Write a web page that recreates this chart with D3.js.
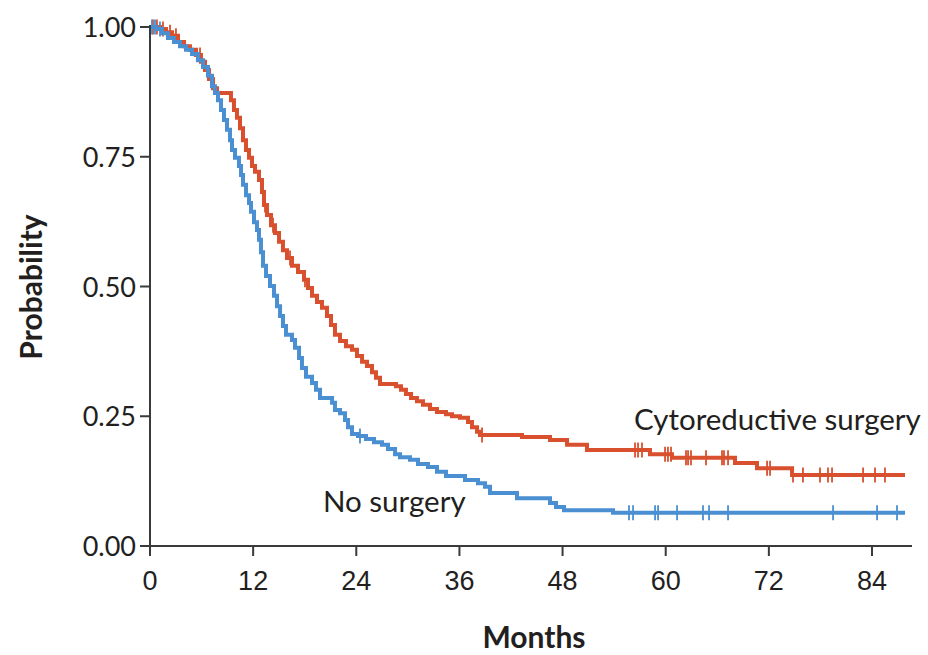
<!DOCTYPE html>
<html>
<head>
<meta charset="utf-8">
<script src="https://cdn.jsdelivr.net/npm/d3@7"></script>
<style>
  html, body { margin: 0; padding: 0; background: #fff; }
  svg { display: block; }
  .lbl { font-family: Lato, "Open Sans", "DejaVu Sans", sans-serif; fill: #231f20; }
</style>
</head>
<body>
<svg id="chart" width="928" height="655"></svg>
<script>
// Kaplan–Meier steps: [month at which survival drops, survival after the drop]
const surgerySteps = [
  [1.16,0.996],[1.86,0.990],[2.56,0.983],[3.26,0.971],[3.96,0.963],[4.65,0.956],[5.35,0.946],
  [5.93,0.933],[6.40,0.917],[6.86,0.900],[7.33,0.882],[7.80,0.873],[9.42,0.859],[9.77,0.840],
  [10.12,0.825],[10.47,0.805],[10.82,0.782],[11.17,0.763],[11.52,0.748],[11.87,0.732],[12.22,0.721],
  [12.68,0.705],[13.03,0.682],[13.26,0.657],[13.61,0.638],[14.08,0.618],[14.54,0.603],[15.01,0.586],
  [15.47,0.570],[15.94,0.555],[16.52,0.540],[17.22,0.528],[17.92,0.513],[18.38,0.497],[18.85,0.482],
  [19.43,0.470],[20.01,0.459],[20.59,0.443],[21.06,0.426],[21.52,0.407],[22.11,0.395],[22.80,0.385],
  [23.50,0.378],[24.08,0.366],[24.67,0.355],[25.25,0.347],[25.83,0.335],[26.29,0.324],[26.76,0.312],
  [28.62,0.308],[29.20,0.301],[29.78,0.293],[30.37,0.285],[31.06,0.279],[31.76,0.272],[32.58,0.264],
  [33.39,0.258],[34.44,0.254],[35.14,0.250],[36.07,0.247],[37.00,0.239],[37.46,0.229],[38.05,0.220],
  [38.39,0.214],[43.28,0.210],[46.54,0.204],[48.52,0.195],[50.84,0.185],[58.17,0.177],[60.73,0.170],
  [68.06,0.160],[70.62,0.150],[74.70,0.137]
];
const surgeryCensored = [
  0.35,0.81,1.51,2.33,3.02,5.82,13.38,14.31,16.29,18.03,38.63,56.43,56.78,57.24,59.92,60.26,60.62,
  62.36,62.60,62.94,64.69,66.55,66.78,67.25,71.79,72.14,74.81,75.97,77.95,78.88,79.35,82.96,84.35,85.51
];

const noSurgerySteps = [
  [0.70,0.996],[1.40,0.988],[2.09,0.979],[2.79,0.971],[3.49,0.963],[4.19,0.956],[4.89,0.948],
  [5.58,0.936],[6.17,0.923],[6.75,0.906],[7.21,0.886],[7.56,0.873],[7.91,0.859],[8.26,0.840],
  [8.61,0.821],[8.96,0.802],[9.31,0.782],[9.54,0.763],[9.89,0.748],[10.35,0.732],[10.59,0.715],
  [10.82,0.696],[11.17,0.676],[11.52,0.661],[11.75,0.644],[12.10,0.624],[12.45,0.609],[12.68,0.590],
  [12.91,0.566],[13.15,0.540],[13.50,0.520],[13.96,0.501],[14.43,0.482],[14.78,0.462],[15.13,0.443],
  [15.47,0.424],[15.82,0.407],[16.52,0.397],[16.87,0.382],[17.34,0.362],[17.68,0.343],[18.15,0.326],
  [18.85,0.314],[19.31,0.301],[19.78,0.285],[21.18,0.276],[21.52,0.262],[22.11,0.256],[22.69,0.243],
  [23.04,0.229],[23.50,0.216],[24.20,0.212],[25.13,0.206],[26.06,0.200],[26.99,0.195],[27.69,0.187],
  [28.51,0.177],[29.09,0.171],[30.25,0.166],[31.18,0.158],[32.34,0.152],[33.39,0.143],[34.44,0.135],
  [36.65,0.127],[38.16,0.121],[38.98,0.114],[39.56,0.102],[42.70,0.092],[46.54,0.083],[47.24,0.075],
  [48.17,0.069],[53.87,0.064]
];
const noSurgeryCensored = [
  0.23,0.58,1.16,24.43,55.73,56.20,58.76,59.11,61.32,64.34,65.04,67.25,79.47,84.59,86.91
];

const followUpEnd = 87.84;
const xTicks = [0, 12, 24, 36, 48, 60, 72, 84];
const yTicks = [0, 0.25, 0.5, 0.75, 1.0];

const series = [
  { name: "Cytoreductive surgery", steps: surgerySteps, censored: surgeryCensored, color: "#d9502e", label: [634, 430] },
  { name: "No surgery", steps: noSurgerySteps, censored: noSurgeryCensored, color: "#4a8fd1", label: [323, 512] }
];

const svg = d3.select("#chart");
const x = d3.scaleLinear().domain([0, 84]).range([150, 872]);
const y = d3.scaleLinear().domain([0, 1]).range([546, 27]);
const axisColor = "#3a3a3c";

// Turn drop list into a step path from time 0 to end of follow-up
function stepPoints(steps) {
  const pts = [[0, 1]];
  let s = 1;
  steps.forEach(([t, v]) => { pts.push([t, s]); pts.push([t, v]); s = v; });
  pts.push([followUpEnd, s]);
  return pts;
}
function survivalAt(steps, t) {
  let s = 1;
  for (const [tt, v] of steps) { if (tt <= t) s = v; else break; }
  return s;
}

const line = d3.line().x(d => x(d[0])).y(d => y(d[1]));

series.forEach(sr => {
  svg.append("path")
    .attr("d", line(stepPoints(sr.steps)))
    .attr("fill", "none")
    .attr("stroke", sr.color)
    .attr("stroke-width", 4)
    .attr("stroke-linejoin", "miter");
  svg.append("g").selectAll("line")
    .data(sr.censored)
    .join("line")
    .attr("x1", d => x(d)).attr("x2", d => x(d))
    .attr("y1", d => y(survivalAt(sr.steps, d)) - 7.5)
    .attr("y2", d => y(survivalAt(sr.steps, d)) + 7.5)
    .attr("stroke", sr.color)
    .attr("stroke-width", 1.8);
  svg.append("text")
    .attr("class", "lbl")
    .attr("x", sr.label[0]).attr("y", sr.label[1])
    .attr("font-size", 29.5)
    .text(sr.name);
});

// X axis
const xAxis = svg.append("g").attr("transform", "translate(0,546)");
xAxis.append("line").attr("x1", 150).attr("x2", 912).attr("y1", 0).attr("y2", 0)
  .attr("stroke", axisColor).attr("stroke-width", 2);
xAxis.selectAll("line.tick").data(xTicks).join("line").attr("class", "tick")
  .attr("x1", d => x(d)).attr("x2", d => x(d)).attr("y1", 0).attr("y2", 10)
  .attr("stroke", axisColor).attr("stroke-width", 2);
xAxis.selectAll("text").data(xTicks).join("text")
  .attr("x", d => x(d)).attr("y", 44)
  .attr("text-anchor", "middle")
  .attr("font-family", "'Liberation Sans Narrow', 'Arial Narrow', sans-serif")
  .attr("font-size", 27)
  .attr("fill", "#231f20")
  .text(d => d);

// Y axis
const yAxis = svg.append("g").attr("transform", "translate(150,0)");
yAxis.append("line").attr("x1", 0).attr("x2", 0).attr("y1", 25).attr("y2", 556)
  .attr("stroke", axisColor).attr("stroke-width", 2);
yAxis.selectAll("line.tick").data(yTicks).join("line").attr("class", "tick")
  .attr("x1", -10).attr("x2", 0).attr("y1", d => y(d)).attr("y2", d => y(d))
  .attr("stroke", axisColor).attr("stroke-width", 2);
yAxis.selectAll("text").data(yTicks).join("text")
  .attr("class", "lbl")
  .attr("x", -14).attr("y", d => y(d) + 10)
  .attr("text-anchor", "end")
  .attr("font-size", 27)
  .text(d => d3.format(".2f")(d));

// Axis titles
svg.append("text").attr("class", "lbl")
  .attr("x", 534).attr("y", 648)
  .attr("text-anchor", "middle")
  .attr("font-size", 30).attr("font-weight", "bold")
  .text("Months");
svg.append("text").attr("class", "lbl")
  .attr("transform", "translate(42,287) rotate(-90)")
  .attr("text-anchor", "middle")
  .attr("font-size", 30).attr("font-weight", "bold")
  .text("Probability");
</script>
</body>
</html>
